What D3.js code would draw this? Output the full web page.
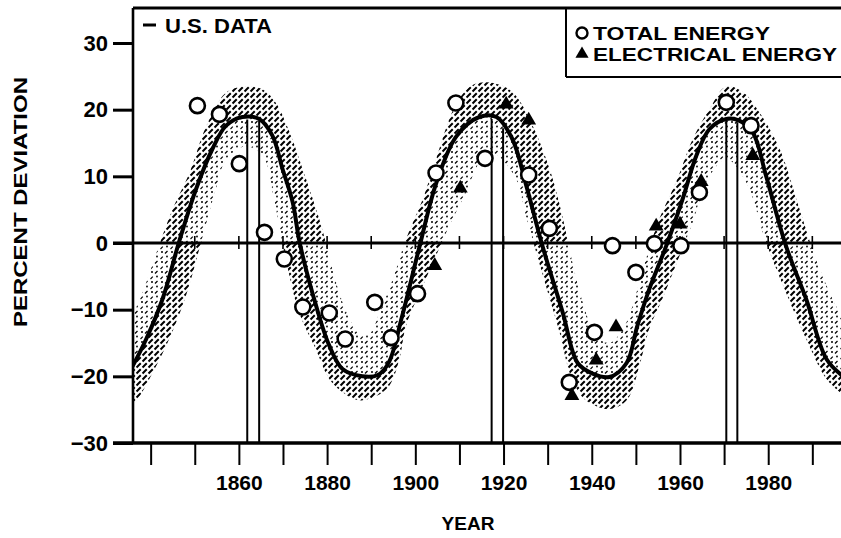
<!DOCTYPE html>
<html>
<head>
<meta charset="utf-8">
<script src="https://cdn.jsdelivr.net/npm/d3@7"></script>
<style>
  html, body { margin: 0; padding: 0; background: #fff; }
  svg { display: block; }
  text { font-family: "Liberation Sans", Arial, sans-serif; font-weight: bold; fill: #000; }
</style>
</head>
<body>
<svg id="chart" width="841" height="538"></svg>
<script>
// Long-wave trend of U.S. energy consumption: percent deviation from trend
const trendYears  = [1835.5, 1839, 1842.7, 1846.5, 1850.3, 1854, 1857.1, 1860.8, 1864.6, 1867.6, 1869.9, 1872.2, 1873.8, 1877.5, 1880.5, 1883.5, 1888, 1891.5, 1894, 1897, 1901, 1904.8, 1909.3, 1914.5, 1918.4, 1922, 1925.2, 1928.8, 1933.4, 1936.8, 1940.2, 1944, 1947.9, 1950.3, 1953, 1956.9, 1960.6, 1963.7, 1966.7, 1970.5, 1973.3, 1976.5, 1979.5, 1984, 1988.6, 1993.2, 1997];
const trendValues = [-19, -14.4, -8.4, 0.3, 8.1, 14.1, 17.6, 18.9, 18.6, 16.1, 11.1, 6.1, 0, -9.4, -15.4, -18.9, -20, -19.8, -17.9, -11, -0.4, 9.1, 16, 18.9, 18.9, 15.6, 8.5, -0.4, -10.4, -18, -19.6, -20.1, -18, -12.5, -7, -0.4, 6.6, 13.1, 17.1, 18.6, 18.4, 16.6, 10.1, -0.4, -8.4, -17.4, -20];

// Outer and inner edges of the uncertainty band
const upperYears  = [1835.5, 1838.2, 1841.3, 1845, 1848.8, 1852.6, 1857, 1861.6, 1865.5, 1868.4, 1871.5, 1874.5, 1878.5, 1882.3, 1884.8, 1887.5, 1889.8, 1891.9, 1894.9, 1897.9, 1901.7, 1904.7, 1909, 1912.5, 1916, 1920, 1922.8, 1926.6, 1930.5, 1933, 1936, 1938.2, 1941, 1944, 1946.5, 1948.5, 1952.3, 1955.3, 1959.1, 1962.9, 1966.7, 1970.5, 1974.5, 1978, 1982.6, 1987.1, 1990.8, 1994.6, 1997];
const upperValues = [-11.5, -7.4, -1.5, 5.1, 10.5, 17.5, 22.5, 23.5, 23, 21, 16.6, 11, 3, -6.5, -11, -13.8, -13.5, -10.4, -5.4, 0.6, 6.6, 12.6, 20.5, 23.5, 24.1, 23.5, 22.1, 17.6, 11, 5, -4, -9.4, -14, -15, -13.5, -10.9, -2.4, 3.6, 9.1, 15.6, 20.1, 23.5, 22.5, 19.6, 14.1, 5.1, -2.4, -8.4, -11.5];
const lowerYears  = [1835.5, 1836.6, 1839.7, 1844.2, 1848, 1851.4, 1854.8, 1857.1, 1861.6, 1865.5, 1868, 1870.5, 1873.7, 1877.5, 1880.5, 1883.5, 1887.3, 1891, 1894.1, 1896.4, 1897.9, 1901.7, 1904.7, 1907.7, 1911.5, 1914.5, 1917.5, 1922.5, 1925.5, 1929.6, 1932.7, 1935.3, 1938.5, 1944, 1948, 1950.8, 1953, 1956, 1959.9, 1962.9, 1965.9, 1970.5, 1975, 1979.5, 1984, 1988.6, 1993.2, 1997];
const lowerValues = [-24.5, -23.9, -20.4, -14.4, -7.9, 0, 8.1, 12.5, 14.5, 13, 6.5, -2, -10.5, -16, -20.4, -22.4, -23.6, -23, -21.4, -17.4, -12.4, -6.4, -1.9, 2.6, 7.6, 12, 13.5, 10, 3, -6.4, -13.4, -20, -23.5, -24.9, -23.5, -18.4, -12.9, -8.4, -1.9, 3.1, 9.1, 12.6, 9.1, 0.1, -7.4, -14.4, -20.4, -22.8];

// Observations
const totalYears  = [1850.6, 1855.6, 1860.1, 1865.8, 1870.3, 1874.5, 1880.5, 1884.1, 1890.8, 1894.5, 1900.5, 1904.7, 1909.2, 1915.8, 1925.7, 1930.4, 1934.9, 1940.6, 1944.7, 1950, 1954.2, 1960.2, 1964.4, 1970.5, 1976.1];
const totalValues = [20.6, 19.3, 11.9, 1.6, -2.4, -9.6, -10.5, -14.4, -8.9, -14.2, -7.6, 10.5, 21, 12.7, 10.2, 2.2, -20.9, -13.4, -0.4, -4.4, -0.1, -0.4, 7.6, 21.1, 17.6];
const electricYears  = [1904.4, 1910.2, 1920.6, 1925.7, 1935.5, 1941, 1945.5, 1954.6, 1960, 1964.8, 1976.5];
const electricValues = [-3.4, 8.2, 20.8, 18.4, -22.9, -17.6, -12.6, 2.5, 2.8, 9.2, 13.1];

// Peak markers (paired verticals)
const peakPairs = [[1861.9, 1864.6], [1917.3, 1919.9], [1970.5, 1973]];

const decadeTicks = [1840, 1850, 1860, 1870, 1880, 1890, 1900, 1910, 1920, 1930, 1940, 1950, 1960, 1970, 1980, 1990];
const yearLabels  = [1860, 1880, 1900, 1920, 1940, 1960, 1980];
const valueTicks  = [30, 20, 10, 0, -10, -20, -30];

const svg = d3.select("#chart");
const plotLeft = 133, plotRight = 841, plotTop = 8, plotBottom = 443;

const x = d3.scaleLinear().domain([1836, 1996.5]).range([plotLeft, plotRight]);
const y = d3.scaleLinear().domain([-30, 30]).range([443, 43]);
const zeroY = y(0);

const defs = svg.append("defs");
const addClip = (id, y0, y1) => defs.append("clipPath").attr("id", id)
  .append("rect").attr("x", plotLeft).attr("y", y0)
  .attr("width", plotRight - plotLeft).attr("height", y1 - y0);
addClip("plotClip", plotTop, plotBottom);
addClip("aboveZero", plotTop, zeroY);
addClip("belowZero", zeroY, plotBottom);

// diagonal hatch, broken strokes
const hatch = defs.append("pattern").attr("id", "hatch").attr("patternUnits", "userSpaceOnUse")
  .attr("width", 6).attr("height", 6);
hatch.append("path").attr("d", "M-1.5,7.5 L7.5,-1.5")
  .attr("stroke", "#000").attr("stroke-width", 2).attr("stroke-dasharray", "6,2.5");
hatch.append("path").attr("d", "M-1.5,1.5 L1.5,-1.5 M4.5,7.5 L7.5,4.5")
  .attr("stroke", "#000").attr("stroke-width", 2);

// stipple with a few short dashes
const stip = defs.append("pattern").attr("id", "stipple").attr("patternUnits", "userSpaceOnUse")
  .attr("width", 10).attr("height", 10);
stip.append("circle").attr("cx", 2).attr("cy", 2).attr("r", 1).attr("fill", "#000");
stip.append("circle").attr("cx", 7).attr("cy", 6.5).attr("r", 0.9).attr("fill", "#000");
stip.append("path").attr("d", "M5,3.5 L7.5,1").attr("stroke", "#000").attr("stroke-width", 1.2);
stip.append("path").attr("d", "M0.5,9 L2.8,6.7").attr("stroke", "#000").attr("stroke-width", 1.1);

const pts = (ys, vs) => ys.map((t, i) => [x(t), y(vs[i])]);
const trendPts = pts(trendYears, trendValues);
const upperPts = pts(upperYears, upperValues);
const lowerPts = pts(lowerYears, lowerValues);

const line = d3.line().curve(d3.curveCatmullRom.alpha(0.5));
const joinPath = (a, b) => line(a) + "L" + line(b.slice().reverse()).slice(1) + "Z";
const upperHalf = joinPath(upperPts, trendPts);
const lowerHalf = joinPath(trendPts, lowerPts);

// band: hatched on the outer side of peaks and troughs, stippled on the inner side
const band = svg.append("g").attr("clip-path", "url(#plotClip)");
band.append("path").attr("d", upperHalf).attr("clip-path", "url(#aboveZero)").attr("fill", "url(#hatch)");
band.append("path").attr("d", lowerHalf).attr("clip-path", "url(#aboveZero)").attr("fill", "url(#stipple)");
band.append("path").attr("d", lowerHalf).attr("clip-path", "url(#belowZero)").attr("fill", "url(#hatch)");
band.append("path").attr("d", upperHalf).attr("clip-path", "url(#belowZero)").attr("fill", "url(#stipple)");

// zero line with decade ticks
svg.append("line").attr("x1", 113).attr("x2", plotRight).attr("y1", zeroY).attr("y2", zeroY)
  .attr("stroke", "#000").attr("stroke-width", 2.8);
svg.append("g").selectAll("line").data(decadeTicks.slice(1)).join("line")
  .attr("x1", d => x(d)).attr("x2", d => x(d))
  .attr("y1", zeroY - 7).attr("y2", zeroY + 6)
  .attr("stroke", "#000").attr("stroke-width", 1.6);

// paired vertical lines from the curve peaks to the base
const trendAt = d3.scaleLinear().domain(trendYears).range(trendValues);
svg.append("g").selectAll("line").data(peakPairs.flat()).join("line")
  .attr("x1", d => x(d)).attr("x2", d => x(d))
  .attr("y1", d => y(trendAt(d)) + 2).attr("y2", plotBottom)
  .attr("stroke", "#000").attr("stroke-width", 2);

// trend curve
svg.append("path").attr("clip-path", "url(#plotClip)")
  .attr("d", line(trendPts)).attr("fill", "none")
  .attr("stroke", "#000").attr("stroke-width", 4).attr("stroke-linejoin", "round");

// observations
svg.append("g").selectAll("circle").data(totalYears.map((t, i) => [t, totalValues[i]])).join("circle")
  .attr("cx", d => x(d[0])).attr("cy", d => y(d[1])).attr("r", 7.5)
  .attr("fill", "#fff").attr("stroke", "#000").attr("stroke-width", 2.6);
const tri = d3.symbol().type(d3.symbolTriangle).size(95);
svg.append("g").selectAll("path").data(electricYears.map((t, i) => [t, electricValues[i]])).join("path")
  .attr("transform", d => `translate(${x(d[0])},${y(d[1])})`)
  .attr("d", tri).attr("fill", "#000");

// frame: top rule and left axis
svg.append("line").attr("x1", plotLeft).attr("x2", plotRight).attr("y1", plotTop).attr("y2", plotTop)
  .attr("stroke", "#000").attr("stroke-width", 3);
svg.append("line").attr("x1", plotLeft).attr("x2", plotLeft).attr("y1", plotTop).attr("y2", plotBottom)
  .attr("stroke", "#000").attr("stroke-width", 2.6);

// value axis
const yAxis = svg.append("g").attr("transform", `translate(${plotLeft},0)`)
  .call(d3.axisLeft(y).tickValues(valueTicks).tickSize(20).tickPadding(5)
    .tickFormat(d => d < 0 ? "\u2212" + Math.abs(d) : d));
yAxis.select(".domain").remove();
yAxis.selectAll(".tick line").attr("stroke", "#000").attr("stroke-width", 3);
yAxis.selectAll("text").attr("font-size", 22).attr("font-family", null);

// year axis
const xAxis = svg.append("g").attr("transform", `translate(0,${plotBottom})`)
  .call(d3.axisBottom(x).tickValues(decadeTicks).tickSize(22).tickPadding(10)
    .tickFormat(d => yearLabels.includes(d) ? d : ""));
xAxis.select(".domain").remove();
xAxis.selectAll(".tick line").attr("stroke", "#000").attr("stroke-width", 2);
xAxis.selectAll("text").attr("font-size", 21).attr("font-family", null);
svg.append("line").attr("x1", 113).attr("x2", plotRight).attr("y1", plotBottom).attr("y2", plotBottom)
  .attr("stroke", "#000").attr("stroke-width", 3.4);

// axis titles
svg.append("text").attr("transform", "translate(27,202) rotate(-90)")
  .attr("text-anchor", "middle").attr("font-size", 19)
  .attr("textLength", 250).attr("lengthAdjust", "spacingAndGlyphs")
  .text("PERCENT DEVIATION");
svg.append("text").attr("x", 468).attr("y", 530).attr("text-anchor", "middle")
  .attr("font-size", 19).text("YEAR");

// data source note
svg.append("line").attr("x1", 143).attr("x2", 156).attr("y1", 25).attr("y2", 25)
  .attr("stroke", "#000").attr("stroke-width", 3);
svg.append("text").attr("x", 165).attr("y", 33).attr("font-size", 20)
  .attr("textLength", 107).attr("lengthAdjust", "spacingAndGlyphs").text("U.S. DATA");

// legend
const lg = svg.append("g");
lg.append("line").attr("x1", 566).attr("x2", 566).attr("y1", plotTop).attr("y2", 77)
  .attr("stroke", "#000").attr("stroke-width", 2);
lg.append("line").attr("x1", 566).attr("x2", plotRight).attr("y1", 77).attr("y2", 77)
  .attr("stroke", "#000").attr("stroke-width", 2.2);
lg.append("circle").attr("cx", 582).attr("cy", 33).attr("r", 5.5)
  .attr("fill", "#fff").attr("stroke", "#000").attr("stroke-width", 2.4);
lg.append("path").attr("transform", "translate(582,54)")
  .attr("d", d3.symbol().type(d3.symbolTriangle).size(75)).attr("fill", "#000");
lg.append("text").attr("x", 593).attr("y", 40).attr("font-size", 18)
  .attr("textLength", 177).attr("lengthAdjust", "spacingAndGlyphs").text("TOTAL ENERGY");
lg.append("text").attr("x", 593).attr("y", 60.5).attr("font-size", 18)
  .attr("textLength", 244).attr("lengthAdjust", "spacingAndGlyphs").text("ELECTRICAL ENERGY");
</script>
</body>
</html>
